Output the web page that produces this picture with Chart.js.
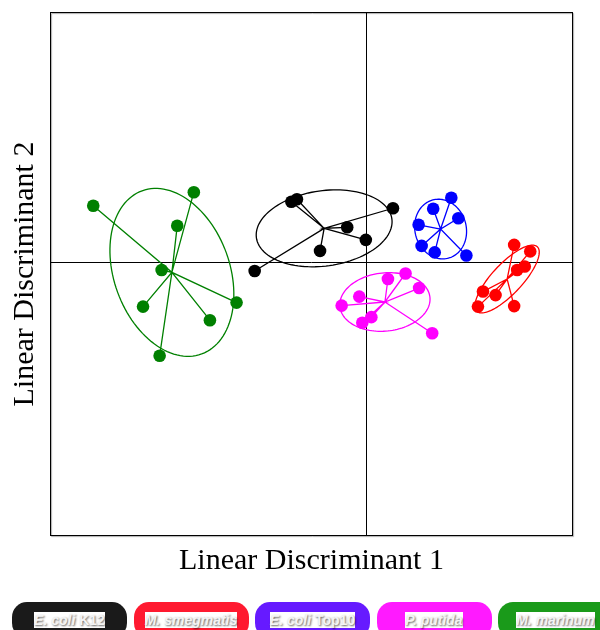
<!DOCTYPE html>
<html>
<head>
<meta charset="utf-8">
<script src="https://cdn.jsdelivr.net/npm/chart.js@4/dist/chart.umd.min.js"></script>
<style>
    body { margin: 0; width: 600px; height: 630px; overflow: hidden; background: #fff; position: relative; }
    #lda { display: block; }
    #legend { position: absolute; left: 12px; top: 602px; display: flex; gap: 6.5px; }
    .pill { width: 115px; height: 36px; border-radius: 15px; box-sizing: border-box; padding-top: 8px; text-align: center; }
    .pill span { background: #fff; color: #f4f4f4; font: bold 14px "Liberation Sans", Arial, sans-serif; line-height: 20px; text-shadow: 1px 1px 2px rgba(0,0,0,0.6); white-space: nowrap; }
    .pill i { font-style: italic; }
</style>
</head>
<body>
<canvas id="lda" width="600" height="590"></canvas>
<div id="legend"></div>
<script>
// groups (legend order) and their LD scores
const groups = ['E. coli K12', 'M. smegmatis', 'E. coli Top10', 'P. putida', 'M. marinum'];

const k12X = [-1.50, -1.39, 0.52, -0.39, -0.02, -0.93, -2.23];
const k12Y = [1.22, 1.27, 1.09, 0.71, 0.46, 0.24, -0.16];

const smegX = [2.93, 3.25, 3.14, 2.99, 2.31, 2.56, 2.21, 2.93];
const smegY = [0.36, 0.23, -0.07, -0.14, -0.57, -0.64, -0.87, -0.86];

const top10X = [1.68, 1.32, 1.82, 1.03, 1.09, 1.35, 1.98];
const top10Y = [1.30, 1.08, 0.89, 0.76, 0.34, 0.21, 0.15];

const putidaX = [0.42, 0.77, 1.04, -0.15, -0.50, 0.09, -0.09, 1.30];
const putidaY = [-0.32, -0.21, -0.50, -0.67, -0.85, -1.08, -1.19, -1.40];

const marinumX = [-5.44, -3.44, -3.77, -4.08, -4.45, -3.12, -2.59, -4.12];
const marinumY = [1.14, 1.41, 0.74, -0.14, -0.87, -1.14, -0.79, -1.85];

// confidence ellipses: semi-axes (LD units) and rotation in degrees
const ellipseA = [1.36, 0.88, 0.60, 0.90, 1.73];
const ellipseB = [0.75, 0.30, 0.51, 0.58, 1.15];
const ellipseAngle = [8, 47, 105, 6, -70];

const groupX = [k12X, smegX, top10X, putidaX, marinumX];
const groupY = [k12Y, smegY, top10Y, putidaY, marinumY];

const plotColors = ['#000000', '#ff0000', '#0000ff', '#ff00ff', '#008000'];
const pillColors = ['#1a1a1a', '#ff1a30', '#661aff', '#ff1aff', '#1a9a1a'];

const points = groupX.map((xs, g) => xs.map((x, i) => ({ x: x, y: groupY[g][i] })));
const centroids = points.map(pts => ({
    x: pts.reduce((s, p) => s + p.x, 0) / pts.length,
    y: pts.reduce((s, p) => s + p.y, 0) / pts.length
}));

const datasets = [];
points.forEach((pts, g) => {
    // spokes from the group mean to every sample
    datasets.push({
        type: 'line',
        data: pts.flatMap(p => [centroids[g], p]),
        borderColor: plotColors[g],
        borderWidth: 1.3,
        pointRadius: 0,
        fill: false,
        tension: 0,
        order: 2
    });
    datasets.push({
        type: 'scatter',
        label: groups[g],
        data: pts,
        backgroundColor: plotColors[g],
        borderColor: plotColors[g],
        borderWidth: 0,
        pointRadius: 6.3,
        order: 1
    });
});

const ellipsePlugin = {
    id: 'ellipses',
    beforeDatasetsDraw(chart) {
        const { ctx, scales: { x, y } } = chart;
        ctx.save();
        centroids.forEach((c, g) => {
            const th = ellipseAngle[g] * Math.PI / 180;
            ctx.beginPath();
            for (let k = 0; k <= 120; k++) {
                const t = k / 120 * 2 * Math.PI;
                const dx = ellipseA[g] * Math.cos(t) * Math.cos(th) - ellipseB[g] * Math.sin(t) * Math.sin(th);
                const dy = ellipseA[g] * Math.cos(t) * Math.sin(th) + ellipseB[g] * Math.sin(t) * Math.cos(th);
                const px = x.getPixelForValue(c.x + dx);
                const py = y.getPixelForValue(c.y + dy);
                if (k === 0) ctx.moveTo(px, py); else ctx.lineTo(px, py);
            }
            ctx.strokeStyle = plotColors[g];
            ctx.lineWidth = 1.3;
            ctx.stroke();
        });
        ctx.restore();
    }
};

const framePlugin = {
    id: 'frame',
    afterDraw(chart) {
        const { ctx, chartArea: a } = chart;
        ctx.save();
        ctx.shadowColor = 'rgba(0,0,0,0.35)';
        ctx.shadowOffsetX = 1;
        ctx.shadowOffsetY = 1;
        ctx.shadowBlur = 1;
        ctx.strokeStyle = '#000';
        ctx.lineWidth = 1;
        ctx.strokeRect(a.left + 0.5, a.top + 0.5, a.right - a.left - 1, a.bottom - a.top - 1);
        ctx.restore();
    }
};

const zeroLine = c => c.tick && c.tick.value === 0 ? '#000' : 'rgba(0,0,0,0)';
const titleFont = { family: '"Liberation Serif", "Times New Roman", serif', size: 30, weight: 'normal' };

new Chart(document.getElementById('lda').getContext('2d'), {
    type: 'scatter',
    data: { datasets },
    plugins: [ellipsePlugin, framePlugin],
    options: {
        responsive: false,
        animation: false,
        events: [],
        layout: { padding: { top: 12, right: 27, bottom: 7, left: 0 } },
        plugins: { legend: { display: false }, tooltip: { enabled: false } },
        scales: {
            x: {
                type: 'linear', min: -6.3, max: 4.1,
                ticks: { display: false, stepSize: 1 },
                grid: { color: zeroLine, drawTicks: false, lineWidth: 1 },
                border: { display: false },
                title: { display: true, text: 'Linear Discriminant 1', color: '#000', font: titleFont, padding: { top: 7, bottom: 4 } }
            },
            y: {
                type: 'linear', min: -5.44, max: 5,
                ticks: { display: false, stepSize: 1 },
                grid: { color: zeroLine, drawTicks: false, lineWidth: 1 },
                border: { display: false },
                title: { display: true, text: 'Linear Discriminant 2', color: '#000', font: titleFont, padding: { top: 7, bottom: 7 } }
            }
        }
    }
});

// pill legend under the plot
const legend = document.getElementById('legend');
groups.forEach((name, g) => {
    const pill = document.createElement('div');
    pill.className = 'pill';
    pill.style.background = pillColors[g];
    const parts = name.split(' ');
    const species = parts.slice(0, 2).join(' ');
    const strain = parts.slice(2).join(' ');
    pill.innerHTML = `<span><i>${species}</i>${strain ? ' ' + strain : ''}</span>`;
    legend.appendChild(pill);
});
</script>
</body>
</html>
